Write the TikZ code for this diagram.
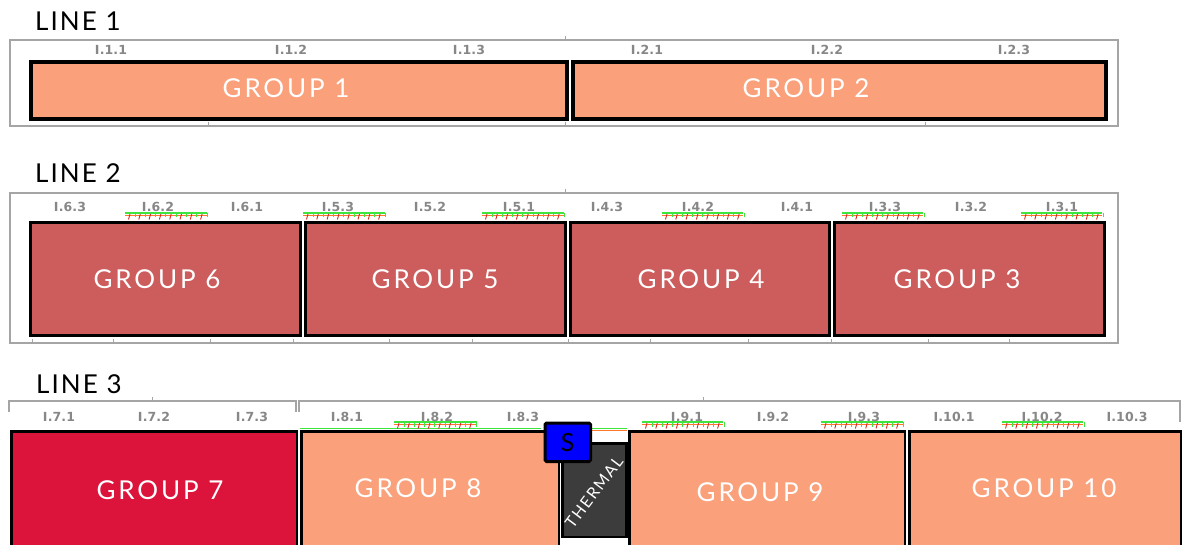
\documentclass[tikz,border=0pt]{standalone}
\usepackage{fontspec}
\setmainfont{Lato}
\newfontfamily\grpfont[LetterSpace=11]{Lato}
\newfontfamily\linefont[LetterSpace=8]{Lato}
\newfontfamily\tagfont[LetterSpace=1]{DejaVu Sans}
\newfontfamily\thermfont[LetterSpace=10]{Lato}

\definecolor{salmonfill}{RGB}{250,160,122}
\definecolor{indianfill}{RGB}{205,92,92}
\definecolor{crimsonfill}{RGB}{220,20,60}
\definecolor{thermalfill}{RGB}{60,60,60}
\definecolor{tagtext}{RGB}{135,135,135}
\definecolor{framegray}{RGB}{165,165,165}
\definecolor{hatchgreen}{RGB}{60,230,60}
\definecolor{hatchred}{RGB}{215,40,40}
\definecolor{hatchorange}{RGB}{255,120,40}

% support bar drawn above a group: x start, x end, y of the top rail
\newcommand\hatchbar[3]{%
  \draw[hatchorange, line width=0.9pt] (#1,#3+2.4) -- (#2,#3+2.4);
  \draw[hatchgreen, line width=1.3pt] (#1,#3) -- (#2,#3);
  \foreach \k in {0,...,7} {
    \draw[hatchred, line width=0.9pt] ({#1+5+\k*10.3},#3+1) -- ++(-1.5,5.5);
    \draw[hatchgreen, line width=0.9pt] ({#1+10+\k*10.3},#3) -- ++(0,4.5);
  }%
}

\tikzset{
  grp/.style={draw=black, inner sep=0pt, anchor=north west},
  grptext/.style={inner sep=0pt, text=white,
    font=\grpfont\fontsize{26}{26}\selectfont},
  tag/.style={inner sep=0pt, text=tagtext,
    font=\tagfont\bfseries\fontsize{12.5}{12.5}\selectfont},
  linelabel/.style={inner sep=0pt, anchor=base west, text=black,
    font=\linefont\fontsize{26}{26}\selectfont},
  frame/.style={draw=framegray, line width=1.3pt},
  tick/.style={draw=framegray, line width=1pt},
}

\begin{document}
\begin{tikzpicture}[x=1pt,y=-1pt]
\useasboundingbox (0,0) rectangle (1182,545);
\clip (0,0) rectangle (1182,545);
\fill[white] (0,0) rectangle (1182,545);

% ---------------- LINE 1 ----------------
\node[linelabel] (line1) at (35,31) {LINE 1};
\draw[frame] (10,40) rectangle (1118,126);
\draw[tick] (565,36) -- (565,40);
\foreach \tx in {208,565,925} \draw[tick] (\tx,126) -- (\tx,122);

\node[grp, line width=4pt, fill=salmonfill, minimum width=536pt, minimum height=57pt] (g1) at (29,60) {};
\node[grp, line width=4pt, fill=salmonfill, minimum width=533pt, minimum height=57pt] (g2) at (571,60) {};
\node[grptext] (g1t) at (286,88) {GROUP 1};
\node[grptext] (g2t) at (806,88) {GROUP 2};

\node[tag] (t11) at (111,50) {I.1.1};
\node[tag] (t12) at (291,50) {I.1.2};
\node[tag] (t13) at (469,50) {I.1.3};
\node[tag] (t21) at (647,50) {I.2.1};
\node[tag] (t22) at (827,50) {I.2.2};
\node[tag] (t23) at (1014,50) {I.2.3};

% ---------------- LINE 2 ----------------
\node[linelabel] (line2) at (35,183) {LINE 2};
\draw[frame] (10,193) rectangle (1118,343);
\draw[tick] (565,189) -- (565,193);
\foreach \tx in {32,113,210,293,389,472,568,650,748,831,928,1009} \draw[tick] (\tx,343) -- (\tx,339);

\node[grp, line width=3pt, fill=indianfill, minimum width=270pt, minimum height=112pt] (g6) at (28.5,221.5) {};
\node[grp, line width=3pt, fill=indianfill, minimum width=260pt, minimum height=112pt] (g5) at (303.5,221.5) {};
\node[grp, line width=3pt, fill=indianfill, minimum width=259pt, minimum height=112pt] (g4) at (568.5,221.5) {};
\node[grp, line width=3pt, fill=indianfill, minimum width=270pt, minimum height=112pt] (g3) at (832.5,221.5) {};
\node[grptext] (g6t) at (157,279) {GROUP 6};
\node[grptext] (g5t) at (435,279) {GROUP 5};
\node[grptext] (g4t) at (701,279) {GROUP 4};
\node[grptext] (g3t) at (957,279) {GROUP 3};

\hatchbar{125}{207}{213}
\hatchbar{303}{385}{213}
\hatchbar{482}{564}{213}
\hatchbar{662}{743}{213}
\hatchbar{842}{923}{213}
\hatchbar{1021}{1102}{213}

\node[tag] (t63) at (70,207) {I.6.3};
\node[tag] (t62) at (158,207) {I.6.2};
\node[tag] (t61) at (247,207) {I.6.1};
\node[tag] (t53) at (338,207) {I.5.3};
\node[tag] (t52) at (430,207) {I.5.2};
\node[tag] (t51) at (519,207) {I.5.1};
\node[tag] (t43) at (607,207) {I.4.3};
\node[tag] (t42) at (698,207) {I.4.2};
\node[tag] (t41) at (797,207) {I.4.1};
\node[tag] (t33) at (885,207) {I.3.3};
\node[tag] (t32) at (971,207) {I.3.2};
\node[tag] (t31) at (1062,207) {I.3.1};

% ---------------- LINE 3 ----------------
\node[linelabel] (line3) at (36,393) {LINE 3};
\draw[tick, line width=1.3pt] (9,412) -- (9,401) -- (296,401) -- (296,412);
\draw[tick, line width=1.3pt] (299,412) -- (299,401) -- (1180,401) -- (1180,422);
\draw[tick] (152,397) -- (152,401);
\draw[tick] (703,397) -- (703,401);

\node[grp, line width=2.5pt, fill=crimsonfill, minimum width=285.5pt, minimum height=130pt] (g7) at (10.25,430.25) {};
\node[grp, line width=2.5pt, fill=salmonfill, minimum width=257.5pt, minimum height=130pt] (g8) at (300.25,430.25) {};
\node[grp, line width=2.5pt, fill=salmonfill, minimum width=275.5pt, minimum height=130pt] (g9) at (628.25,430.25) {};
\node[grp, line width=2.5pt, fill=salmonfill, minimum width=271.25pt, minimum height=130pt] (g10) at (908.25,430.25) {};

\node[grptext] (g7t) at (160,490) {GROUP 7};
\node[grptext] (g8t) at (418,488) {GROUP 8};
\node[grptext] (g9t) at (760,492) {GROUP 9};
\node[grptext] (g10t) at (1044,488) {GROUP 10};

\node[draw=black, line width=2.5pt, fill=thermalfill, inner sep=0pt, anchor=north west,
      minimum width=64pt, minimum height=93.5pt] (therm) at (561,442) {};
\node[rotate=53, text=white, inner sep=0pt, font=\thermfont\fontsize{16}{16}\selectfont] (thermlbl) at (594,492) {THERMAL};

\draw[hatchgreen, line width=1pt] (300,428) -- (541,428);
\draw[hatchorange, line width=1pt] (591,430) -- (627,430);
\draw[hatchgreen, line width=0.8pt] (591,428.5) -- (627,428.5);
\hatchbar{394}{477}{422}
\hatchbar{642}{723}{422}
\hatchbar{821}{903}{422}
\hatchbar{1002}{1083}{422}

\node[draw=black, line width=3pt, fill=blue, rounded corners=1.5pt, inner sep=0pt, anchor=north west,
      minimum width=45.5pt, minimum height=38.5pt, font=\fontsize{25}{25}\selectfont] (sbox) at (543.5,421.5) {S};

\node[tag] (t71) at (59,417) {I.7.1};
\node[tag] (t72) at (154,417) {I.7.2};
\node[tag] (t73) at (252,417) {I.7.3};
\node[tag] (t81) at (347,417) {I.8.1};
\node[tag] (t82) at (437,417) {I.8.2};
\node[tag] (t83) at (523,417) {I.8.3};
\node[tag] (t91) at (687,417) {I.9.1};
\node[tag] (t92) at (773,417) {I.9.2};
\node[tag] (t93) at (864,417) {I.9.3};
\node[tag] (t101) at (954,417) {I.10.1};
\node[tag] (t102) at (1042,417) {I.10.2};
\node[tag] (t103) at (1127,417) {I.10.3};
\end{tikzpicture}
\end{document}
